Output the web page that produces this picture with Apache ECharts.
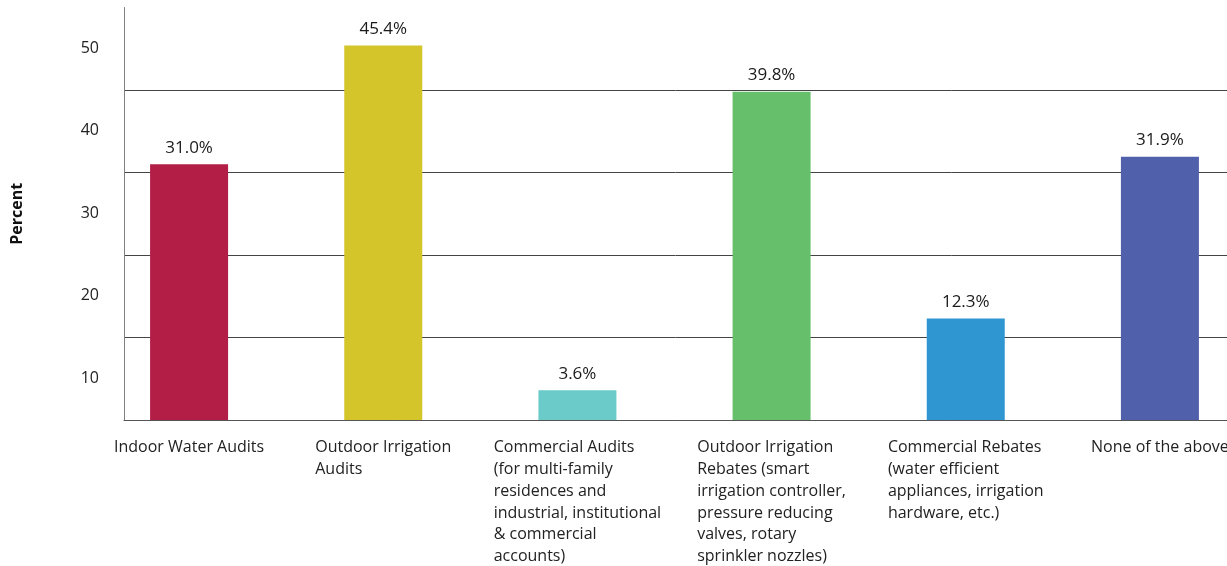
<!DOCTYPE html>
<html>
<head>
<meta charset="utf-8">
<script src="https://cdn.jsdelivr.net/npm/echarts@6/dist/echarts.min.js"></script>
<style>
  html, body { margin: 0; padding: 0; background: #fff; }
  #main { width: 1227px; height: 566px; }
</style>
</head>
<body>
<div id="main"></div>
<script>
var categories = [
  'Indoor Water Audits',
  'Outdoor Irrigation\nAudits',
  'Commercial Audits\n(for multi-family\nresidences and\nindustrial, institutional\n& commercial\naccounts)',
  'Outdoor Irrigation\nRebates (smart\nirrigation controller,\npressure reducing\nvalves, rotary\nsprinkler nozzles)',
  'Commercial Rebates\n(water efficient\nappliances, irrigation\nhardware, etc.)',
  'None of the above'
];
var values = [31.0, 45.4, 3.6, 39.8, 12.3, 31.9];
var barColors = ['#b21e46', '#d4c52a', '#6acbc8', '#66bf6a', '#2f96d2', '#5160ab'];
var yTicks = [0, 10, 20, 30, 40, 50];

var chartDom = document.getElementById('main');
var myChart = echarts.init(chartDom);
var option;

var font = '"Open Sans", sans-serif';

option = {
  animation: false,
  textStyle: { fontFamily: font },
  grid: [
    // axes + gridlines
    { left: 124, right: 0, top: 7.5, bottom: 146, outerBoundsMode: 'none' },
    // bars (wider spacing than the axis frame)
    { left: 92, right: -30, top: 7.5, bottom: 146, outerBoundsMode: 'none' }
  ],
  xAxis: [
    {
      gridIndex: 0,
      type: 'category',
      data: categories,
      axisLine: { show: true, lineStyle: { color: '#555', width: 1 } },
      axisTick: { show: false },
      axisLabel: { show: false }
    },
    {
      gridIndex: 1,
      type: 'category',
      data: categories,
      axisLine: { show: false },
      axisTick: { show: false },
      axisLabel: {
        interval: 0,
        margin: 17,
        align: 'center',
        verticalAlign: 'top',
        formatter: function (v) {
          return v.split('\n').map(function (s) { return '{l|' + s + '}'; }).join('\n');
        },
        rich: {
          l: { align: 'left', fontSize: 16, lineHeight: 21.7, color: '#222', fontFamily: font }
        }
      }
    }
  ],
  yAxis: [
    {
      gridIndex: 0,
      type: 'value',
      min: yTicks[0],
      max: yTicks[yTicks.length - 1],
      interval: 10,
      name: 'Percent',
      nameLocation: 'middle',
      nameGap: 99,
      nameTextStyle: { fontSize: 16, fontWeight: 'bold', color: '#111', fontFamily: font },
      axisLine: { show: true, lineStyle: { color: '#808080', width: 1 } },
      axisTick: { show: false },
      axisLabel: {
        margin: 25,
        fontSize: 16,
        color: '#222',
        showMaxLabel: true,
        hideOverlap: false,
        // labels sit about half a step below their gridline in the original
        verticalAlign: 'top',
        lineHeight: 81,
        formatter: function (v) { return v === 0 ? '' : String(v); }
      },
      splitLine: {
        show: true,
        lineStyle: {
          color: ['#444', '#444', '#444', '#444', '#444', 'rgba(0,0,0,0)'],
          width: 1
        }
      }
    },
    {
      gridIndex: 1,
      type: 'value',
      min: yTicks[0],
      max: yTicks[yTicks.length - 1],
      interval: 10,
      show: false,
      splitLine: { show: false }
    }
  ],
  series: [
    {
      type: 'bar',
      xAxisIndex: 1,
      yAxisIndex: 1,
      barWidth: 78,
      data: values.map(function (v, i) {
        return { value: v, itemStyle: { color: barColors[i] } };
      }),
      label: {
        show: true,
        position: 'top',
        distance: 8,
        fontSize: 17,
        color: '#1a1a1a',
        fontFamily: font,
        formatter: function (p) { return p.value.toFixed(1) + '%'; }
      }
    }
  ]
};

option && myChart.setOption(option);
</script>
</body>
</html>
